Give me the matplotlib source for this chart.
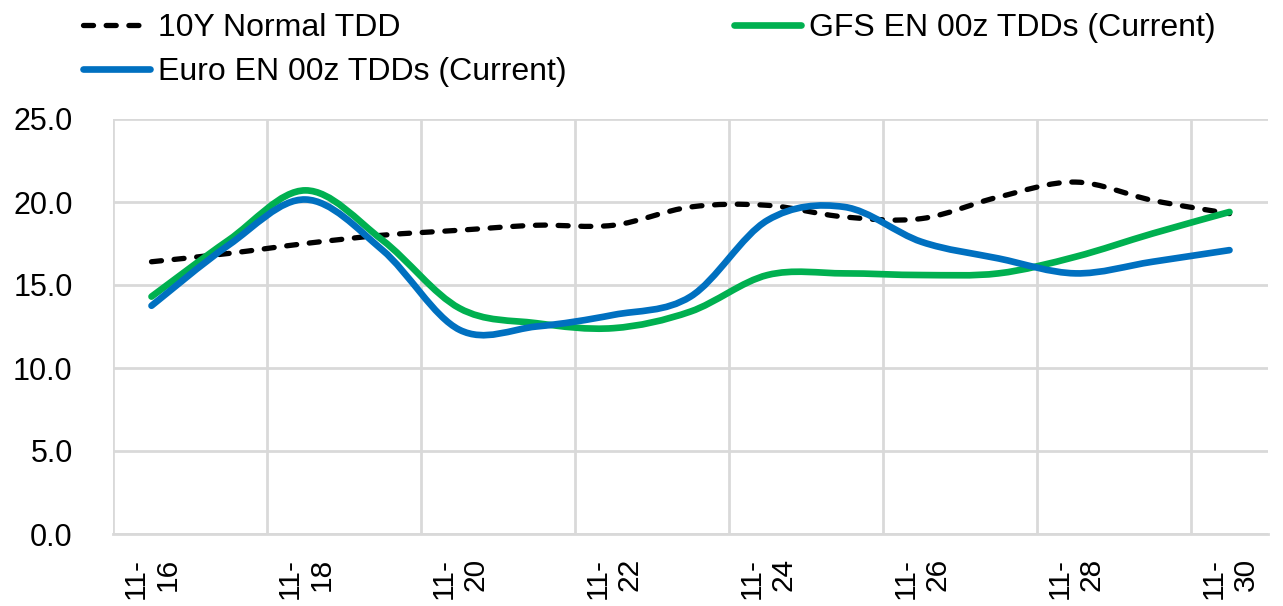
import numpy as np
import matplotlib.pyplot as plt
from matplotlib.path import Path
from matplotlib.patches import PathPatch
from matplotlib.lines import Line2D

plt.rcParams['font.family'] = ['Liberation Sans', 'DejaVu Sans']

# ---------------- data ----------------
dates = ['11-16', '11-17', '11-18', '11-19', '11-20', '11-21', '11-22', '11-23',
         '11-24', '11-25', '11-26', '11-27', '11-28', '11-29', '11-30']
normal_10y = [16.4, 16.9, 17.5, 18.0, 18.3, 18.6, 18.6, 19.7, 19.8, 19.1, 19.0, 20.3, 21.2, 20.1, 19.3]
gfs_en = [14.3, 17.7, 20.7, 17.7, 13.6, 12.7, 12.4, 13.4, 15.6, 15.7, 15.6, 15.7, 16.7, 18.1, 19.4]
euro_en = [13.75, 17.4, 20.15, 17.1, 12.3, 12.5, 13.2, 14.3, 18.9, 19.7, 17.6, 16.6, 15.7, 16.4, 17.1]


def smooth_path(xs, ys):
    # Excel style smoothed line: catmull-rom segments as cubic bezier
    p = np.column_stack([xs, ys]).astype(float)
    ext = np.vstack([p[0], p, p[-1]])
    verts = [p[0]]
    codes = [Path.MOVETO]
    for i in range(len(p) - 1):
        p0, p1, p2, p3 = ext[i], ext[i + 1], ext[i + 2], ext[i + 3]
        c1 = p1 + (p2 - p0) / 6.0
        c2 = p2 - (p3 - p1) / 6.0
        verts += [c1, c2, p2]
        codes += [Path.CURVE4] * 3
    return Path(verts, codes)


fig = plt.figure(figsize=(12.83, 6.06), dpi=100)
ax = fig.add_axes([113 / 1283, 1 - 534 / 606, (1268 - 113) / 1283, (534 - 119) / 606])

x = np.arange(len(dates))
grid_c = '#d9d9d9'

series = [
    (normal_10y, 'black', 3.8, (0, (1.9, 2.4)), 2, '10Y Normal TDD'),
    (gfs_en, '#00B050', 4.8, '-', 3, 'GFS EN 00z TDDs (Current)'),
    (euro_en, '#0070C0', 4.8, '-', 4, 'Euro EN 00z TDDs (Current)'),
]
handles = {}
for vals, col, lw, ls, z, lab in series:
    patch = PathPatch(smooth_path(x, vals), fill=False, edgecolor=col, lw=lw,
                      linestyle=ls, capstyle='round', joinstyle='round', zorder=z)
    ax.add_patch(patch)
    handles[lab] = Line2D([], [], color=col, lw=lw, linestyle=ls,
                          solid_capstyle='round', dash_capstyle='round')

ax.set_xlim(-0.5, len(dates) - 0.5)
ax.set_ylim(0, 25)
ax.set_yticks(np.arange(0, 25.1, 5))
ax.set_yticklabels([f'{v:.1f}' for v in np.arange(0, 25.1, 5)])

ax.set_xticks(x[::2])
ax.set_xticklabels([d.replace('-', '-\n') for d in dates[::2]], rotation=90,
                   va='top', ha='center', linespacing=1.2, multialignment='right')
ax.set_xticks(np.arange(-0.5, len(dates) - 1, 2), minor=True)

ax.grid(axis='y', color=grid_c, lw=2, zorder=0)
ax.grid(axis='x', which='minor', color=grid_c, lw=2, zorder=0)
ax.set_axisbelow(True)
for s in ['top', 'right', 'left']:
    ax.spines[s].set_visible(False)
ax.spines['bottom'].set_color(grid_c)
ax.spines['bottom'].set_linewidth(2)

ax.tick_params(axis='both', which='both', length=0)
ax.tick_params(axis='y', labelsize=22, pad=29)
ax.tick_params(axis='x', labelsize=21.5, pad=17)

order = ['10Y Normal TDD', 'Euro EN 00z TDDs (Current)', 'GFS EN 00z TDDs (Current)']
fig.legend([handles[k] for k in order], order, ncol=2, loc='upper left',
           bbox_to_anchor=(83 / 1283, 1 - 13 / 606), frameon=False, fontsize=23,
           handlelength=2.1, handletextpad=0.25, columnspacing=5.25,
           labelspacing=0.45, borderpad=0, borderaxespad=0)

plt.savefig('out.png', dpi=100)
